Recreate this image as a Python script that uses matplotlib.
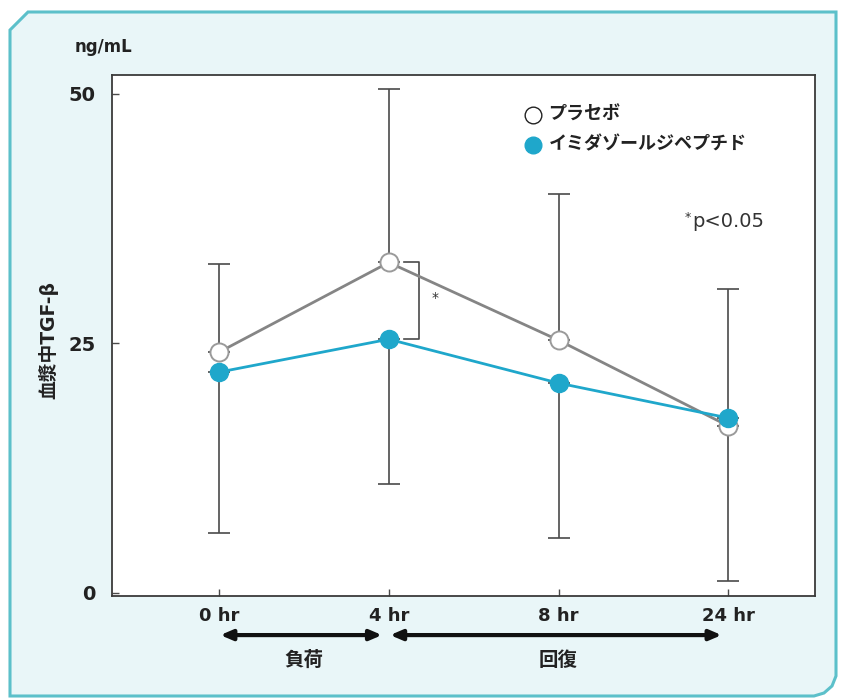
import numpy as np
import matplotlib
matplotlib.use("Agg")
import matplotlib.pyplot as plt
from matplotlib.patches import Polygon

plt.rcParams['font.family'] = ['DejaVu Sans', 'Noto Sans CJK JP']

# data
timepoints = ['0 hr', '4 hr', '8 hr', '24 hr']
placebo = [24.1, 33.1, 25.3, 16.7]
placebo_upper = [32.9, 50.5, 40.0, 30.4]      # top of error bar
imidazole = [22.1, 25.4, 21.0, 17.5]
imidazole_lower = [6.0, 10.9, 5.5, 1.2]       # bottom of error bar
series_names = ['プラセボ', 'イミダゾールジペプチド']
phases = ['負荷', '回復']
phase_start = [0, 1]
phase_end = [1, 3]
yticks = [0, 25, 50]

BLUE = '#1fa7cb'
GRAY = '#858585'
DARK = '#4a4a4a'
TXT = '#222222'

fig = plt.figure(figsize=(8.43, 6.98), dpi=100, facecolor='white')

# light cyan panel with teal border (figure pixel coords, origin bottom-left)
W, H = 843, 698
panel = [(10, H - 30), (28, H - 12), (836, H - 12), (836, 22), (832, 12), (824, 5),
         (814, 2), (10, 2)]
fig.patches.append(Polygon([(px / W, py / H) for px, py in panel], closed=True,
                           transform=fig.transFigure, facecolor='#e9f6f8',
                           edgecolor='#5cc0ca', lw=2.2, zorder=-5))

ax = fig.add_axes([112 / W, 1 - 596 / H, 703 / W, 521 / H])
ax.set_zorder(1)
ax.set_facecolor('white')
x = np.arange(len(timepoints))

# one-sided error bars
ax.errorbar(x, placebo, yerr=[np.zeros(4), np.array(placebo_upper) - np.array(placebo)],
            fmt='none', ecolor=DARK, elinewidth=1.2, capsize=8, capthick=1.2, zorder=2)
ax.errorbar(x, imidazole, yerr=[np.array(imidazole) - np.array(imidazole_lower), np.zeros(4)],
            fmt='none', ecolor=DARK, elinewidth=1.2, capsize=8, capthick=1.2, zorder=2)

ax.plot(x, placebo, color=GRAY, lw=2, marker='o', ms=13, mfc='white', mec='#9a9a9a',
        mew=1.4, zorder=3)
ax.plot(x, imidazole, color=BLUE, lw=2, marker='o', ms=13, mfc=BLUE, mec=BLUE, zorder=4)

# significance bracket at 4 hr
bx0, bx1 = x[1] + 0.09, x[1] + 0.18
ax.plot([bx0, bx1, bx1, bx0], [placebo[1], placebo[1], imidazole[1], imidazole[1]],
        color=DARK, lw=1.2, zorder=2)
ax.text(x[1] + 0.27, (placebo[1] + imidazole[1]) / 2 + 0.3, '*', ha='center', va='center',
        fontsize=10, color='#333333')

ax.set_xlim(-0.63, 3.51)
ax.set_ylim(-0.35, 51.9)
ax.set_xticks(x)
ax.set_xticklabels(timepoints, fontsize=13, fontweight='bold', color=TXT)
ax.set_yticks(yticks)
ax.set_yticklabels([str(v) for v in yticks], fontsize=14, fontweight='bold', color=TXT)
ax.tick_params(direction='in', length=5, width=1, color=DARK)
ax.tick_params(axis='x', pad=8)
ax.tick_params(axis='y', pad=12)
for s in ax.spines.values():
    s.set_color('#3a3a3a')
    s.set_linewidth(1.3)

# legend drawn by hand
ax.plot([0.599], [0.923], transform=ax.transAxes, marker='o', ms=12, mfc='white',
        mec='#222222', mew=1.0, clip_on=False)
ax.plot([0.599], [0.866], transform=ax.transAxes, marker='o', ms=12, mfc=BLUE,
        mec=BLUE, clip_on=False)
ax.text(0.621, 0.923, series_names[0], transform=ax.transAxes, fontsize=13,
        fontweight='bold', va='center', color=TXT)
ax.text(0.621, 0.866, series_names[1], transform=ax.transAxes, fontsize=13,
        fontweight='bold', va='center', color=TXT)

ax.text(0.815, 0.727, '*', transform=ax.transAxes, fontsize=9, va='center', color='#333333')
ax.text(0.825, 0.718, 'p<0.05', transform=ax.transAxes, fontsize=14, va='center',
        color='#333333')

# phase arrows under the x axis
trans = ax.get_xaxis_transform()
gap = 0.04
for name, s, e in zip(phases, phase_start, phase_end):
    ax.annotate('', xy=(e - gap, -0.075), xytext=(s + gap * 0.2, -0.075), xycoords=trans,
                textcoords=trans, annotation_clip=False,
                arrowprops=dict(arrowstyle='<|-|>,head_length=0.7,head_width=0.3',
                                color='#111111', lw=3, shrinkA=0, shrinkB=0))
    ax.text((s + e) / 2, -0.124, name, transform=trans, ha='center', va='center',
            fontsize=14, fontweight='bold', color=TXT)

fig.text(75 / W, 1 - 47 / H, 'ng/mL', fontsize=12, fontweight='bold', va='center',
         ha='left', color=TXT)
fig.text(48 / W, 1 - 340 / H, '血漿中TGF-β', rotation=90, fontsize=13.5, fontweight='bold',
         va='center', ha='center', color=TXT)

fig.savefig('out.png', dpi=100, facecolor=fig.get_facecolor())
